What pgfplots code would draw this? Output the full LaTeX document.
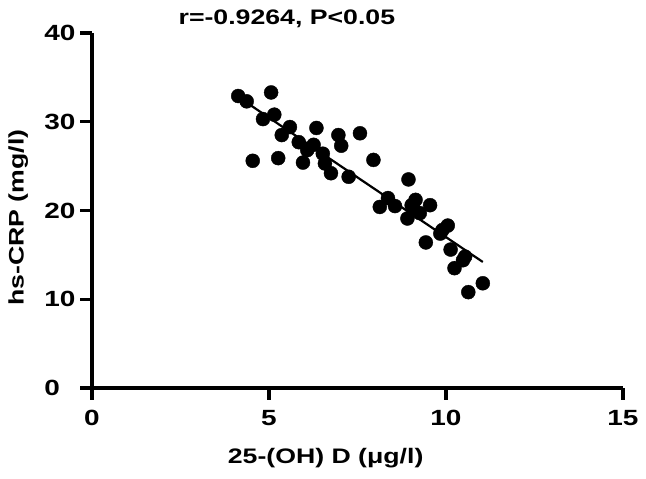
\documentclass[border=0pt]{standalone}
\usepackage{fontspec}
\setmainfont[FakeStretch=1.27]{Liberation Sans}
\usepackage{pgfplots}
\pgfplotsset{compat=1.18}
\begin{document}
\begin{tikzpicture}[x=1pt,y=1pt]
\useasboundingbox (-92,-91) rectangle (554,388);
\begin{axis}[
  scale only axis, width=531pt, height=355pt,
  xmin=0, xmax=15, ymin=0, ymax=40,
  axis x line=bottom, axis y line=left,
  axis line style={-, line width=3.2pt},
  xtick={0,5,10,15}, ytick={0,10,20,30,40},
  yticklabels={0\hphantom{0},10,20,30,40},
  tick align=outside, major tick length=12pt,
  every tick/.style={black, line width=3.2pt},
  tick label style={font=\fontsize{22}{24}\selectfont\bfseries},
  xticklabel style={yshift=-7pt},
  yticklabel style={xshift=-1pt},
  /pgf/number format/assume math mode=true,
  title={r=-0.9264, P<0.05},
  title style={font=\fontsize{21}{23}\selectfont\bfseries, at={(axis description cs:0.367,1)}, anchor=base, yshift=2pt},
  xlabel={25-(OH) D (μg/l)},
  xlabel style={font=\fontsize{21}{23}\selectfont\bfseries, at={(axis description cs:0.44,0)}, anchor=base, yshift=-75pt},
  ylabel={hs-CRP (mg/l)},
  ylabel style={font=\fontsize{21}{23}\selectfont\bfseries, at={(axis description cs:-0.139,0.48)}, anchor=center},
  clip=false,
]
\addplot[only marks, mark=*, mark size=7pt, black, mark options={fill=black}] coordinates {
(4.13,32.9) (4.37,32.3) (5.06,33.3) (4.83,30.3) (5.15,30.8) (5.59,29.4) (5.36,28.5)
(4.54,25.6) (5.26,25.9) (5.84,27.7) (6.08,26.8) (6.34,29.3) (6.26,27.4) (5.96,25.4)
(6.52,26.4) (6.58,25.3) (6.75,24.2) (6.96,28.5) (7.04,27.3) (7.57,28.7) (7.25,23.8)
(7.95,25.7) (8.13,20.4) (8.36,21.4) (8.56,20.5) (8.94,23.5) (8.91,19.1) (9.03,20.6)
(9.14,21.2) (9.26,19.7) (9.55,20.6) (9.43,16.4) (9.84,17.4) (10.05,18.3) (10.13,15.6)
(10.24,13.5) (10.48,14.4) (10.54,14.8) (10.63,10.8) (11.04,11.8) (9.1,20.1) (9.9,17.8)
};
\addplot[black, line width=2.2pt] coordinates {(4.13,32.8) (11.04,14.2)};
\end{axis}
\end{tikzpicture}
\end{document}
